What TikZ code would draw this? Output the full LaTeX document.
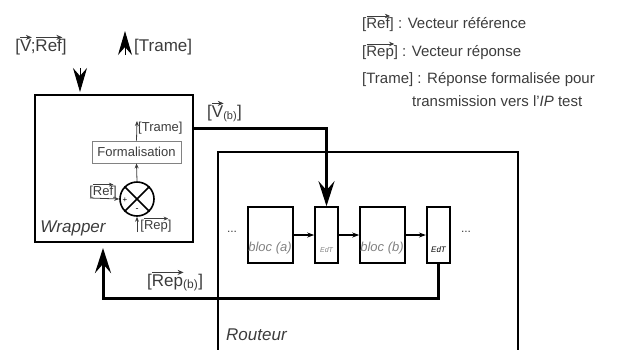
\documentclass[tikz,border=0pt]{standalone}
\usepackage{amsmath}
\usepackage{fontspec}
\setmainfont{Liberation Sans}
\usetikzlibrary{arrows.meta,positioning}

\definecolor{txtgray}{RGB}{60,60,60}
\definecolor{boxgray}{RGB}{130,130,130}
\newlength{\vecwd}
\newcommand{\vecto}[1]{\settowidth{\vecwd}{#1}\rlap{\raisebox{0.8em}{\tikz[x=1pt,y=1pt,baseline=0pt]\draw[line width=0.05em,-{Stealth[length=0.35em,width=0.3em]}] (0pt,0pt) -- (\vecwd,0pt);}}#1}
\newcommand{\fs}[1]{\fontsize{#1}{#1}\selectfont}

\tikzset{
  blocbox/.style={draw, line width=1.6pt, minimum width=45pt, minimum height=56pt, inner sep=0pt},
  edtbox/.style={draw, line width=1.6pt, minimum width=23pt, minimum height=56pt, inner sep=0pt},
  bigarrow/.style={line width=3pt, -{Stealth[length=25pt,width=16pt,inset=9pt]}},
  tiparrow/.style={line width=1pt, -{Stealth[length=24pt,width=14pt,inset=8pt]}},
  smallarrow/.style={line width=1.5pt, -{Stealth[length=7pt,width=5pt]}},
  thinarrow/.style={line width=0.8pt, txtgray, -{Stealth[length=5pt,width=4pt]}},
  lbl/.style={text=txtgray, inner sep=0pt},
}

\begin{document}
\begin{tikzpicture}[x=1pt,y=-1pt]
    \useasboundingbox (0,0) rectangle (642,349);
    % The wrapper and what is inside it.
        \node[draw, line width=1.8pt, minimum width=158pt, minimum height=147pt, inner sep=0pt] (wrapper) at (114,168.5) {};
        \node[draw=boxgray, line width=0.8pt, minimum width=89pt, minimum height=22pt, inner sep=0pt, text=txtgray, font=\fs{13}] (form) at (136.5,152) {Formalisation};
        \node[draw, circle, line width=1.6pt, minimum size=34pt, inner sep=0pt] (cmp) at (137,199) {};
        \draw[line width=1.6pt] (cmp.north west) -- (cmp.south east);
        \draw[line width=1.6pt] (cmp.north east) -- (cmp.south west);
        \node[font=\fs{8}, inner sep=0pt] at (125,200) {+};
        \node[font=\fs{9}, inner sep=0pt] at (137,210) {-};
        \coordinate (trin) at (137,121);
        \coordinate (refin) at (90,198);
        \coordinate (repin) at (137,232);
        \draw[thinarrow] (cmp.north) -- (form.south);
        \draw[thinarrow] (form.north) -- (trin);
        \draw[thinarrow] (refin) -- (cmp.west);
        \draw[thinarrow] (repin) -- (cmp.south);
        \node[lbl, font=\fs{13}, anchor=base west] at (138,131) {[Trame]};
        \node[lbl, font=\fs{13}, anchor=base] at (103,195) {[\vecto{Ref}]};
        \node[lbl, font=\fs{13}, anchor=base] at (156,229) {[\vecto{Rep}]};
        \node[lbl, font=\fs{17}\itshape] at (73,228) {Wrapper};
    % Top inputs and outputs.
        \coordinate (vtop) at (80,68);
        \coordinate (vbot) at (80,92);
        \coordinate (ttop) at (125,31);
        \coordinate (tbot) at (125,55);
        \draw[tiparrow] (vtop) -- (vbot);
        \draw[tiparrow] (tbot) -- (ttop);
        \node[lbl, font=\fs{17}, anchor=base] at (41,51) {[\vecto{V};\vecto{Ref}]};
        \node[lbl, font=\fs{17}, anchor=base west] at (134,51) {[Trame]};
    % This draws the router.
        \draw[line width=1.8pt] (218,352) -- (218,152) -- (518,152) -- (518,352);
        \node[lbl, font=\fs{17}\itshape, anchor=west] at (226,335) {Routeur};
        \node[blocbox] (bloca) at (270.5,235) {};
        \node[edtbox] (edta) at (326.5,235) {};
        \node[blocbox] (blocb) at (382.5,235) {};
        \node[edtbox, line width=2.2pt] (edtb) at (438.5,235) {};
        \node[lbl, font=\fs{13}\itshape, text=boxgray] at (270,248) {bloc (a)};
        \node[lbl, font=\fs{13}\itshape, text=boxgray] at (382,248) {bloc (b)};
        \node[lbl, font=\fs{7}\itshape, text=boxgray] at (326.5,250) {EdT};
        \node[lbl, font=\fs{8}\itshape, text=black] at (438.5,250) {EdT};
        \node[lbl, font=\fs{12}] (dotsl) at (232,232) {...};
        \node[lbl, font=\fs{12}] (dotsr) at (466,232) {...};
        \draw[smallarrow] (bloca) -- (edta);
        \draw[smallarrow] (edta) -- (blocb);
        \draw[smallarrow] (blocb) -- (edtb);
    % Connections between wrapper and router.
        \coordinate (rtn) at (103,248);
        \coordinate (loopc) at (103,298);
        \draw[bigarrow] ([yshift=40.5pt]wrapper.east) -| (edta.north);
        \draw[bigarrow] (edtb.south) |- (loopc) -- (rtn);
        \node[lbl, font=\fs{17}, anchor=base west] at (207,117) {[\vecto{V}$_{\text{\fs{11}(b)}}$]};
        \node[lbl, font=\fs{17}, anchor=base west] at (147,286) {[\vecto{Rep}$_{\text{\fs{12}(b)}}$]};
    % Legend.
        \node[lbl, font=\fs{15}, anchor=base west] at (362,28) {[\vecto{Ref}] : Vecteur référence};
        \node[lbl, font=\fs{15}, anchor=base west] at (362,56) {[\vecto{Rep}] : Vecteur réponse};
        \node[lbl, font=\fs{15}, anchor=base west] at (362,83) {[Trame] : Réponse formalisée pour};
        \node[lbl, font=\fs{15}, anchor=base west] at (412,106) {transmission vers l'\textit{IP} test};
\end{tikzpicture}
\end{document}
